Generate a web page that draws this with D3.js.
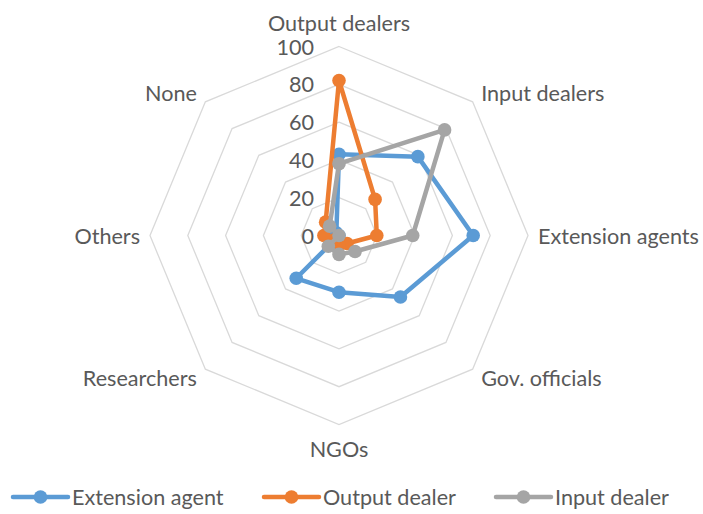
<!DOCTYPE html>
<html>
<head>
<meta charset="utf-8">
<script src="https://cdn.jsdelivr.net/npm/d3@7"></script>
<style>
  html, body { margin: 0; padding: 0; background: #ffffff; }
  svg { display: block; }
  text { font-family: Lato, "Open Sans", sans-serif; fill: #595959; }
</style>
</head>
<body>
<svg id="chart" width="703" height="514"></svg>
<script>
const categories = ["Output dealers", "Input dealers", "Extension agents", "Gov. officials", "NGOs", "Researchers", "Others", "None"];
const seriesNames = ["Extension agent", "Output dealer", "Input dealer"];
const extensionAgent = [43, 59, 71, 46, 30, 32, 0, 2];
const outputDealer = [82, 27, 20, 6, 5, 3, 8, 10];
const inputDealer = [38, 79, 39, 12, 10, 8, 0, 7];
const tickValues = [0, 20, 40, 60, 80, 100];
const colors = ["#5B9BD5", "#ED7D31", "#A5A5A5"];

const series = [extensionAgent, outputDealer, inputDealer].map((v, i) => ({ name: seriesNames[i], values: v, color: colors[i] }));

const svg = d3.select("#chart");
const cx = 339, cy = 235.5, R = 189;
const fontSize = "21.6px";
const r = d3.scaleLinear().domain([0, 100]).range([0, R]);
const ang = c => categories.indexOf(c) * 2 * Math.PI / categories.length;
const px = (c, v) => cx + r(v) * Math.sin(ang(c));
const py = (c, v) => cy - r(v) * Math.cos(ang(c));

// grid rings
const g = svg.append("g");
tickValues.filter(t => t > 0).forEach(t => {
  g.append("polygon")
    .attr("points", categories.map(c => [px(c, t), py(c, t)].join(",")).join(" "))
    .attr("fill", "none")
    .attr("stroke", "#D9D9D9")
    .attr("stroke-width", 1.3);
});

// tick labels
g.selectAll("text.tick").data(tickValues).join("text")
  .attr("class", "tick")
  .attr("x", 314)
  .attr("y", d => cy - r(d))
  .attr("text-anchor", "end")
  .attr("dominant-baseline", "central")
  .style("font-size", fontSize)
  .text(d => d);

// category labels
categories.forEach((c) => {
  const a = ang(c);
  const s = Math.sin(a), co = Math.cos(a);
  let off = 12;
  if (Math.abs(s) < 0.01) off = 24;
  else if (Math.abs(co) < 0.01) off = 10;
  const x = cx + (R + off) * s;
  const y = cy - (R + off) * co;
  g.append("text")
    .attr("x", x)
    .attr("y", y)
    .attr("text-anchor", s > 0.01 ? "start" : (s < -0.01 ? "end" : "middle"))
    .attr("dominant-baseline", "central")
    .style("font-size", fontSize)
    .text(c);
});

// series
const line = d3.line().curve(d3.curveLinearClosed);
series.forEach(s => {
  const pts = categories.map((c, i) => [px(c, s.values[i]), py(c, s.values[i])]);
  const sg = svg.append("g");
  sg.append("path")
    .attr("d", line(pts))
    .attr("fill", "none")
    .attr("stroke", s.color)
    .attr("stroke-width", 4.5)
    .attr("stroke-linejoin", "round");
  sg.selectAll("circle").data(pts).join("circle")
    .attr("cx", d => d[0])
    .attr("cy", d => d[1])
    .attr("r", 6.8)
    .attr("fill", s.color);
});

// legend
const legendX = [13, 264, 496];
const ly = 497;
series.forEach((s, i) => {
  const x0 = legendX[i];
  const lg = svg.append("g");
  lg.append("line")
    .attr("x1", x0).attr("x2", x0 + 55)
    .attr("y1", ly).attr("y2", ly)
    .attr("stroke", s.color).attr("stroke-width", 4.5).attr("stroke-linecap", "round");
  lg.append("circle").attr("cx", x0 + 27.5).attr("cy", ly).attr("r", 6.8).attr("fill", s.color);
  lg.append("text")
    .attr("x", x0 + 59)
    .attr("y", ly)
    .attr("dominant-baseline", "central")
    .style("font-size", fontSize)
    .text(s.name);
});
</script>
</body>
</html>
